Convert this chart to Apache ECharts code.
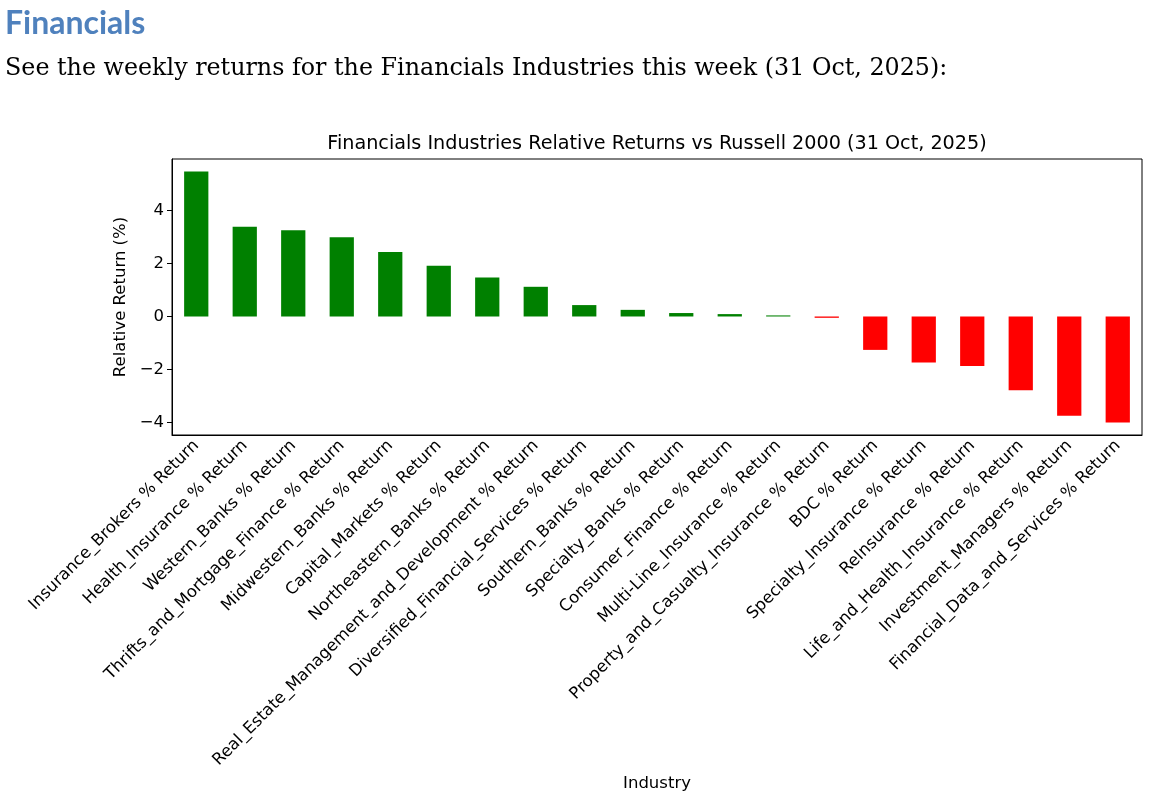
<!DOCTYPE html>
<html>
<head>
<meta charset="utf-8">
<script src="https://cdn.jsdelivr.net/npm/echarts@6/dist/echarts.min.js"></script>
<style>
html,body{margin:0;padding:0;background:#fff;}
#chart{width:1152px;height:798px;}
</style>
</head>
<body>
<div id="chart"></div>
<script>
const categories = [
  "Insurance_Brokers % Return",
  "Health_Insurance % Return",
  "Western_Banks % Return",
  "Thrifts_and_Mortgage_Finance % Return",
  "Midwestern_Banks % Return",
  "Capital_Markets % Return",
  "Northeastern_Banks % Return",
  "Real_Estate_Management_and_Development % Return",
  "Diversified_Financial_Services % Return",
  "Southern_Banks % Return",
  "Specialty_Banks % Return",
  "Consumer_Finance % Return",
  "Multi-Line_Insurance % Return",
  "Property_and_Casualty_Insurance % Return",
  "BDC % Return",
  "Specialty_Insurance % Return",
  "ReInsurance % Return",
  "Life_and_Health_Insurance % Return",
  "Investment_Managers % Return",
  "Financial_Data_and_Services % Return"
];
const values = [5.47, 3.38, 3.25, 2.99, 2.43, 1.91, 1.47, 1.12, 0.43, 0.25, 0.13, 0.09, 0.04, -0.05, -1.26, -1.74, -1.87, -2.78, -3.74, -4.0];
const yTicks = [-4, -2, 0, 2, 4];

const chart = echarts.init(document.getElementById('chart'), null, {renderer: 'canvas'});
const tickFont = 'DejaVu Sans';
chart.setOption({
  backgroundColor: '#ffffff',
  animation: false,
  title: {
    text: 'Financials Industries Relative Returns vs Russell 2000 (31 Oct, 2025)',
    left: 652, top: 130, textAlign: 'center',
    textStyle: {fontFamily: tickFont, fontSize: 19.2, fontWeight: 'normal', color: '#000'}
  },
  graphic: [
    {type: 'text', left: 5, top: 8, style: {text: 'Financials', font: 'bold 32px "Liberation Sans Narrow", "Lato", sans-serif', fill: '#4F81BD'}},
    {type: 'text', left: 5, top: 57, style: {text: 'See the weekly returns for the Financials Industries this week (31 Oct, 2025):', font: '23.8px "DejaVu Serif", "Liberation Serif", serif', fill: '#000'}}
  ],
  grid: {left: 172, top: 159, width: 970, height: 276, show: true, borderColor: '#000', borderWidth: 1, containLabel: false},
  xAxis: {
    type: 'category', data: categories,
    name: 'Industry', nameLocation: 'middle', nameGap: 340,
    nameTextStyle: {fontFamily: tickFont, fontSize: 16.5, color: '#000'},
    axisLine: {onZero: false, lineStyle: {color: '#000', width: 1}},
    axisTick: {alignWithLabel: true, length: 5, inside: false, lineStyle: {color: '#000'}},
    axisLabel: {rotate: 45, interval: 0, margin: 8, fontFamily: tickFont, fontSize: 16.5, color: '#000'},
    splitLine: {show: false}
  },
  yAxis: {
    type: 'value', min: -4.47, max: 5.94,
    name: 'Relative Return (%)', nameLocation: 'middle', nameGap: 40, nameRotate: 90,
    nameTextStyle: {fontFamily: tickFont, fontSize: 16.5, color: '#000'},
    axisLine: {show: true, lineStyle: {color: '#000', width: 1}},
    axisTick: {show: true, length: 5, customValues: yTicks, lineStyle: {color: '#000'}},
    axisLabel: {customValues: yTicks, margin: 8, fontFamily: tickFont, fontSize: 16.5, color: '#000',
      formatter: v => (v < 0 ? '\u2212' + Math.abs(v) : String(v))},
    splitLine: {show: false}
  },
  series: [{
    type: 'bar', data: values, barWidth: '50%',
    itemStyle: {color: p => (p.value >= 0 ? '#008000' : '#ff0000')}
  }]
});
</script>
</body>
</html>
